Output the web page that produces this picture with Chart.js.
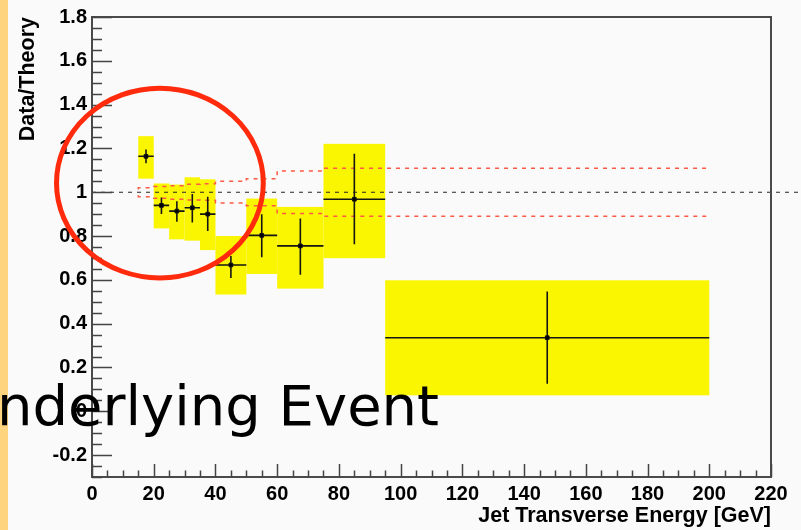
<!DOCTYPE html>
<html>
<head>
<meta charset="utf-8">
<script src="https://cdn.jsdelivr.net/npm/chart.js@4.4.1/dist/chart.umd.min.js"></script>
<style>
  html, body { margin: 0; padding: 0; background: #fafafa; overflow: hidden; }
  #wrap { position: relative; width: 801px; height: 530px; }
</style>
</head>
<body>
<div id="wrap"><canvas id="c" width="801" height="530"></canvas></div>
<script>
// Jet transverse energy bins [GeV]
const binLow  = [15, 20, 25, 30, 35, 40, 50, 60, 75, 95];
const binHigh = [20, 25, 30, 35, 40, 50, 60, 75, 95, 200];

// Data/Theory ratio per bin
const ratio    = [1.164, 0.940, 0.914, 0.929, 0.900, 0.668, 0.803, 0.755, 0.968, 0.336];
// statistical uncertainty (upper / lower edge)
const statHigh = [1.195, 0.976, 0.959, 0.992, 0.979, 0.709, 0.900, 0.880, 1.176, 0.547];
const statLow  = [1.132, 0.901, 0.865, 0.862, 0.823, 0.608, 0.703, 0.623, 0.762, 0.126];
// systematic uncertainty band (upper / lower edge)
const systHigh = [1.256, 1.040, 1.035, 1.068, 1.059, 0.800, 0.971, 0.933, 1.221, 0.598];
const systLow  = [1.062, 0.835, 0.785, 0.779, 0.736, 0.533, 0.627, 0.560, 0.699, 0.073];
// theory uncertainty band
const theoryUp   = [1.013, 1.021, 1.026, 1.030, 1.037, 1.039, 1.050, 1.062, 1.097, 1.110];
const theoryDown = [0.986, 0.979, 0.972, 0.968, 0.964, 0.963, 0.951, 0.938, 0.903, 0.890];

// axes
const xTicks = [0, 20, 40, 60, 80, 100, 120, 140, 160, 180, 200, 220];
const yTicks = [-0.2, 0, 0.2, 0.4, 0.6, 0.8, 1, 1.2, 1.4, 1.6, 1.8];
const yTickLabels = ['-0.2', '0', '0.2', '0.4', '0.6', '0.8', '1', '1.2', '1.4', '1.6', '1.8'];
const xRange = [0, 220];
const yRange = [-0.3, 1.8];

// highlighted region of the low-ET bins (data units)
const callout = { x: 22, y: 1.042, rx: 33.5, ry: 0.433 };
const overlayText = 'nderlying Event';

const binCenter = binLow.map((lo, i) => (lo + binHigh[i]) / 2);

// error-bar crosses as gapped line segments
const crossData = [];
ratio.forEach((r, i) => {
  crossData.push({ x: binLow[i], y: r }, { x: binHigh[i], y: r }, { x: binCenter[i], y: null });
  crossData.push({ x: binCenter[i], y: statLow[i] }, { x: binCenter[i], y: statHigh[i] }, { x: binCenter[i], y: null });
});

// stepped theory band edges
const bandEdges = binLow.concat([binHigh[binHigh.length - 1]]);
const bandUpData = bandEdges.map((e, i) => ({ x: e, y: theoryUp[Math.min(i, theoryUp.length - 1)] }));
const bandDownData = bandEdges.map((e, i) => ({ x: e, y: theoryDown[Math.min(i, theoryDown.length - 1)] }));

const FONT = '"Liberation Sans", Arial, Helvetica, sans-serif';
Chart.defaults.font.family = FONT;

const decor = {
  id: 'decor',
  beforeDraw(chart) {
    const { ctx, width, height } = chart;
    ctx.save();
    ctx.fillStyle = '#fafafa';
    ctx.fillRect(0, 0, width, height);
    ctx.fillStyle = '#ffd47f';
    ctx.fillRect(0, 0, 8, height);
    ctx.restore();
  },
  beforeDatasetsDraw(chart) {
    const { ctx, scales: { x, y } } = chart;
    ctx.save();
    ctx.fillStyle = '#faf500';
    binLow.forEach((lo, i) => {
      const x0 = x.getPixelForValue(lo), x1 = x.getPixelForValue(binHigh[i]);
      const y0 = y.getPixelForValue(systHigh[i]), y1 = y.getPixelForValue(systLow[i]);
      ctx.fillRect(x0, y0, x1 - x0, y1 - y0);
    });
    ctx.restore();
  },
  afterDatasetsDraw(chart) {
    const { ctx, chartArea: a, scales: { x, y } } = chart;
    ctx.save();
    ctx.strokeStyle = '#4a4a4a';
    ctx.lineWidth = 2;
    ctx.strokeRect(a.left, a.top, a.right - a.left, a.bottom - a.top);
    ctx.lineWidth = 1.5;
    ctx.strokeStyle = '#444';
    ctx.beginPath();
    // y ticks (inside the frame)
    for (let k = Math.ceil(yRange[0] / 0.05 - 1e-6); k <= Math.floor(yRange[1] / 0.05 + 1e-6); k++) {
      const v = k * 0.05;
      const major = yTicks.some(t => Math.abs(t - v) < 1e-6);
      const py = Math.round(y.getPixelForValue(v)) + 0.5;
      ctx.moveTo(a.left, py);
      ctx.lineTo(a.left + (major ? 20 : 10), py);
    }
    // x ticks
    for (let v = xRange[0]; v <= xRange[1]; v += 5) {
      const major = xTicks.includes(v);
      const px = Math.round(x.getPixelForValue(v)) + 0.5;
      ctx.moveTo(px, a.bottom);
      ctx.lineTo(px, a.bottom - (major ? 13 : 6.5));
    }
    ctx.stroke();
    ctx.restore();
  },
  afterDraw(chart) {
    const { ctx, scales: { x, y } } = chart;
    ctx.save();
    const cx = x.getPixelForValue(callout.x), cy = y.getPixelForValue(callout.y);
    const rx = x.getPixelForValue(callout.x + callout.rx) - cx;
    const ry = cy - y.getPixelForValue(callout.y + callout.ry);
    ctx.strokeStyle = '#ff2b0c';
    ctx.lineWidth = 5;
    ctx.beginPath();
    ctx.ellipse(cx, cy, rx, ry, 0, 0, Math.PI * 2);
    ctx.stroke();
    ctx.fillStyle = '#000';
    ctx.font = '56px "Comic Sans MS", "DejaVu Sans", sans-serif';
    ctx.textBaseline = 'alphabetic';
    ctx.textAlign = 'left';
    ctx.fillText(overlayText, -3, 425);
    ctx.restore();
  }
};

new Chart(document.getElementById('c'), {
  type: 'line',
  data: {
    datasets: [
      {
        label: 'markers',
        data: ratio.map((r, i) => ({ x: binCenter[i], y: r })),
        showLine: false,
        pointStyle: 'rect',
        pointRadius: 2.6,
        pointBorderWidth: 1,
        pointBackgroundColor: '#000',
        pointBorderColor: '#111',
        order: 0
      },
      {
        label: 'errors',
        data: crossData,
        borderColor: '#151515',
        borderWidth: 1.6,
        pointRadius: 0,
        spanGaps: false,
        order: 1
      },
      {
        label: 'theory up',
        data: bandUpData,
        stepped: 'after',
        borderColor: '#ff5a46',
        borderWidth: 1.5,
        borderDash: [4, 5],
        pointRadius: 0,
        order: 2
      },
      {
        label: 'theory down',
        data: bandDownData,
        stepped: 'after',
        borderColor: '#ff5a46',
        borderWidth: 1.5,
        borderDash: [4, 5],
        pointRadius: 0,
        order: 2
      },
      {
        label: 'unity',
        data: [{ x: xRange[0], y: 1 }, { x: 236, y: 1 }],
        borderColor: '#262626',
        borderWidth: 1.2,
        borderDash: [4, 5],
        pointRadius: 0,
        clip: false,
        order: 3
      }
    ]
  },
  options: {
    responsive: false,
    animation: false,
    devicePixelRatio: 1,
    events: [],
    layout: { padding: { left: 0, right: 30, top: 16, bottom: 0 } },
    plugins: { legend: { display: false }, tooltip: { enabled: false } },
    scales: {
      x: {
        type: 'linear',
        min: xRange[0],
        max: xRange[1],
        afterBuildTicks: s => { s.ticks = xTicks.map(v => ({ value: v })); },
        afterFit: s => { s.height = 53; },
        grid: { display: false, drawTicks: false },
        border: { display: false },
        ticks: {
          color: '#000',
          font: { family: FONT, size: 20, weight: 'bold' },
          padding: 5,
          maxRotation: 0,
          autoSkip: false,
          callback: v => String(v)
        },
        title: {
          display: true,
          text: 'Jet Transverse Energy [GeV]',
          align: 'end',
          color: '#000',
          font: { family: FONT, size: 21.5, weight: 'bold' },
          padding: { top: 0, bottom: 1 }
        }
      },
      y: {
        type: 'linear',
        min: yRange[0],
        max: yRange[1],
        afterBuildTicks: s => { s.ticks = yTicks.map(v => ({ value: v })); },
        afterFit: s => { s.width = 92; },
        grid: { display: false, drawTicks: false },
        border: { display: false },
        ticks: {
          color: '#000',
          font: { family: FONT, size: 20, weight: 'bold' },
          padding: 5,
          autoSkip: false,
          callback: (v, i) => yTickLabels[i]
        },
        title: {
          display: true,
          text: 'Data/Theory',
          align: 'end',
          color: '#000',
          font: { family: FONT, size: 21.5, weight: 'bold' },
          padding: { top: 15.5, bottom: 0 }
        }
      }
    }
  },
  plugins: [decor]
});
</script>
</body>
</html>
